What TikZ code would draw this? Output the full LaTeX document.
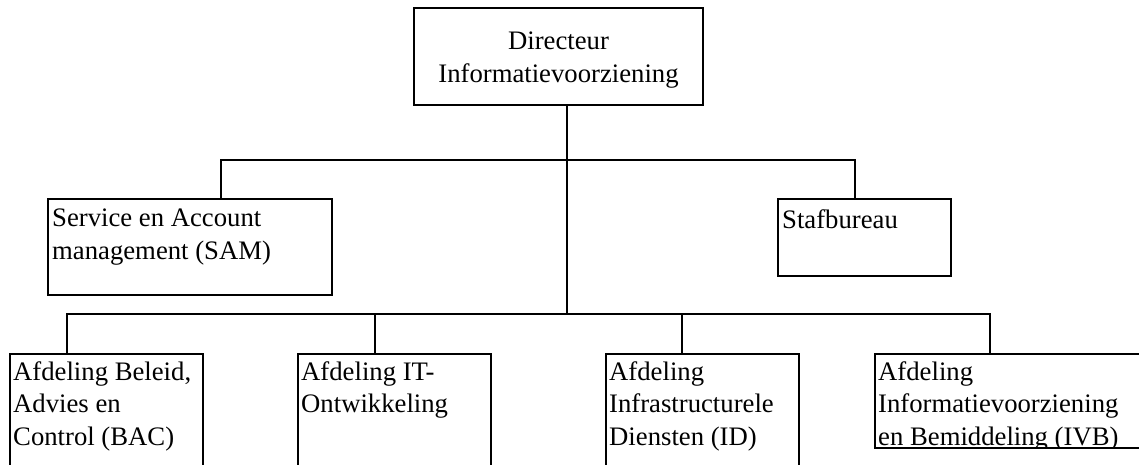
\documentclass[tikz,border=0pt]{standalone}
\usepackage{fontspec}
\setmainfont{Liberation Serif}
\tikzset{
  orgbox/.style={draw, line width=2pt, inner sep=0pt, anchor=north west},
  orgtext/.style={inner sep=0pt, anchor=north west, align=left, font=\fontsize{26.7pt}{32.5pt}\selectfont},
  link/.style={line width=2pt, line cap=rect}
}
\begin{document}
\begin{tikzpicture}[x=1pt, y=-1pt]
    \useasboundingbox (0,0) rectangle (1139,465);
    \clip (0,0) rectangle (1139,465);
    % boxes
    \node[orgbox, minimum width=289pt, minimum height=97pt] (dir) at (413,7) {};
    \node[orgbox, minimum width=284pt, minimum height=96pt] (sam) at (47,198) {};
    \node[orgbox, minimum width=173pt, minimum height=77pt] (staf) at (777,198) {};
    \node[orgbox, minimum width=193pt, minimum height=130pt] (bac) at (9,353) {};
    \node[orgbox, minimum width=193pt, minimum height=130pt] (ito) at (297,353) {};
    \node[orgbox, minimum width=193pt, minimum height=130pt] (id) at (605,353) {};
    \node[orgbox, minimum width=290pt, minimum height=94pt] (ivb) at (874,353) {};
    % texts
    \node[orgtext, anchor=north, align=center] (dirtxt) at ([shift={(0,25)}]dir.north) {Directeur\\Informatievoorziening};
    \node[orgtext] (samtxt) at ([shift={(5,11)}]sam.north west) {Service en Account\\management (SAM)};
    \node[orgtext] (staftxt) at ([shift={(5,11)}]staf.north west) {Stafbureau};
    \node[orgtext] (bactxt) at ([shift={(4,8)}]bac.north west) {Afdeling Beleid,\\Advies en\\Control (BAC)};
    \node[orgtext] (itotxt) at ([shift={(4,8)}]ito.north west) {Afdeling IT-\\Ontwikkeling};
    \node[orgtext] (idtxt) at ([shift={(4,8)}]id.north west) {Afdeling\\Infrastructurele\\Diensten (ID)};
    \begin{scope}
      % last line is cut off by the box
      \clip (ivb.north west) rectangle ([yshift=1pt]ivb.south east);
      \node[orgtext] (ivbtxt) at ([shift={(4,8)}]ivb.north west) {Afdeling\\Informatievoorziening\\en Bemiddeling (IVB)};
    \end{scope}
    % connectors
    \coordinate (low) at (567,314);
    \coordinate (sam-up) at (221,160);
    \coordinate (staf-up) at (855,160);
    \coordinate (bac-up) at (67,314);
    \coordinate (ito-up) at (375,314);
    \coordinate (id-up) at (682,314);
    \coordinate (ivb-up) at (990,314);
    \draw[link] (dir.south -| low) -- (low);
    \draw[link] (sam-up) -- (staf-up);
    \draw[link] (bac-up) -- (ivb-up);
    \foreach \unit in {sam, staf, bac, ito, id, ivb}
      \draw[link] (\unit-up) -- (\unit-up |- \unit.north);
\end{tikzpicture}
\end{document}
